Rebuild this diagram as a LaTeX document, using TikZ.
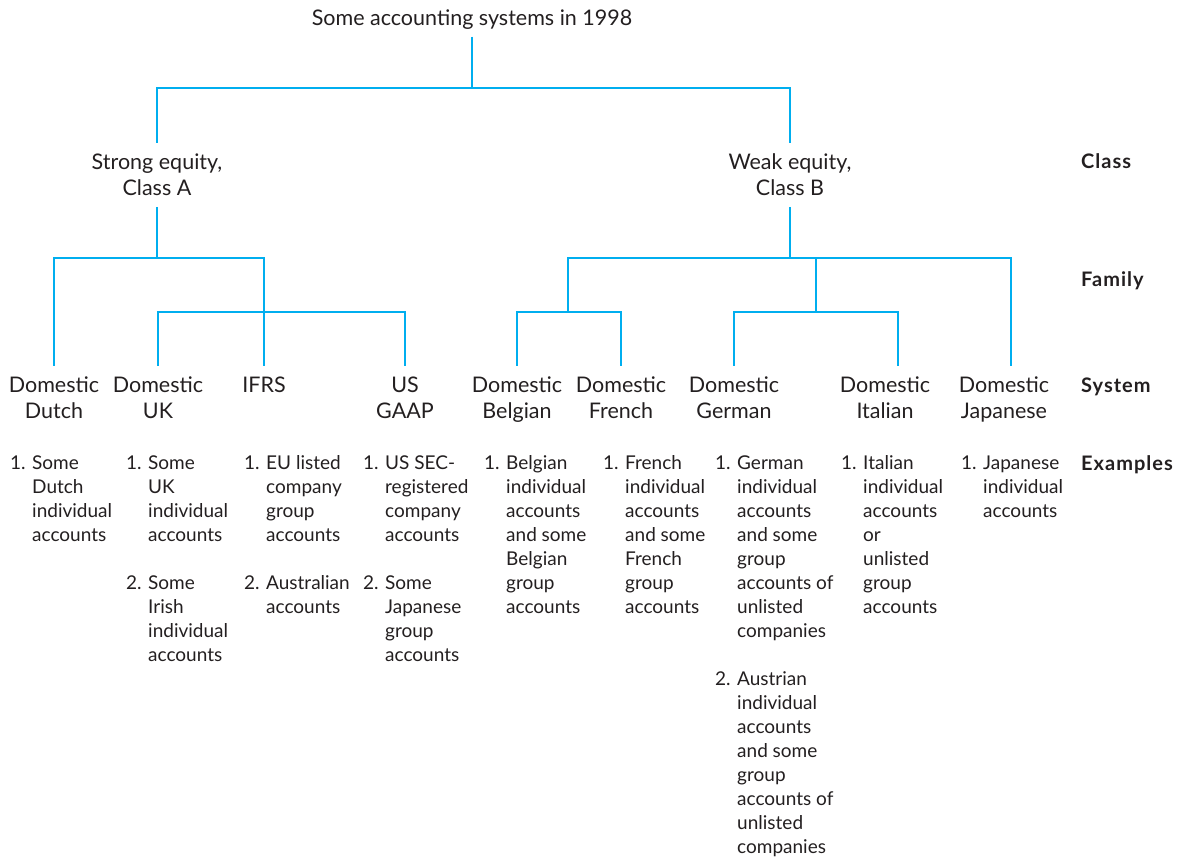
\documentclass[tikz,border=0pt]{standalone}
\usepackage{fontspec}
\setmainfont{Lato}
\newfontfamily\lvlfont[LetterSpace=5]{Lato}
\definecolor{treeblue}{RGB}{0,174,239}
\definecolor{txt}{RGB}{35,31,32}
\newcommand\exa[1]{\makebox[22pt][l]{#1}}
\newcommand\exb{\hspace*{22pt}}
\begin{document}
\begin{tikzpicture}[x=1pt,y=-1pt,
  treeline/.style={draw=treeblue,line width=2.7pt},
  hd/.style={font=\fontsize{21.5}{26}\selectfont,text=txt,inner xsep=0pt,inner ysep=7.8pt},
  exbox/.style={font=\fontsize{19}{24}\selectfont,text=txt,inner sep=0pt,anchor=base west},
  lvl/.style={font=\lvlfont\fontsize{20}{24}\selectfont\bfseries,text=txt,inner sep=0pt,anchor=base west}]
\useasboundingbox (0,0) rectangle (1185,859);
% title
\node[font=\fontsize{21.5}{26}\selectfont,text=txt,inner xsep=0pt,inner ysep=6.5pt,anchor=base] (title) at (472,26) {Some accounting systems in 1998};
% class nodes
\node[hd,anchor=base] (clsA) at (157,169) {\begin{tabular}[t]{@{}c@{}}Strong equity,\\Class A\end{tabular}};
\node[hd,anchor=base] (clsB) at (790,169) {\begin{tabular}[t]{@{}c@{}}Weak equity,\\Class B\end{tabular}};
% system nodes
\node[hd,anchor=base] (sDutch) at (54,392) {\begin{tabular}[t]{@{}c@{}}Domestic\\Dutch\end{tabular}};
\node[hd,anchor=base] (sUK) at (158,392) {\begin{tabular}[t]{@{}c@{}}Domestic\\UK\end{tabular}};
\node[hd,anchor=base] (sIFRS) at (264,392) {\begin{tabular}[t]{@{}c@{}}IFRS\end{tabular}};
\node[hd,anchor=base] (sUS) at (405,392) {\begin{tabular}[t]{@{}c@{}}US\\GAAP\end{tabular}};
\node[hd,anchor=base] (sBel) at (517,392) {\begin{tabular}[t]{@{}c@{}}Domestic\\Belgian\end{tabular}};
\node[hd,anchor=base] (sFr) at (621,392) {\begin{tabular}[t]{@{}c@{}}Domestic\\French\end{tabular}};
\node[hd,anchor=base] (sGer) at (734,392) {\begin{tabular}[t]{@{}c@{}}Domestic\\German\end{tabular}};
\node[hd,anchor=base] (sIt) at (885,392) {\begin{tabular}[t]{@{}c@{}}Domestic\\Italian\end{tabular}};
\node[hd,anchor=base] (sJap) at (1004,392) {\begin{tabular}[t]{@{}c@{}}Domestic\\Japanese\end{tabular}};
% level labels
\node[lvl] (lClass) at (1081,168) {Class};
\node[lvl] (lFamily) at (1081,286) {Family};
\node[lvl] (lSystem) at (1081,392) {System};
\node[lvl] (lExamples) at (1081,470) {Examples};
% examples
\node[exbox] (eDutch) at (10,469) {\begin{tabular}[t]{@{}l@{}}\exa{1.}Some\\\exb Dutch\\\exb individual\\\exb accounts\end{tabular}};
\node[exbox] (eUK) at (126,469) {\begin{tabular}[t]{@{}l@{}}\exa{1.}Some\\\exb UK\\\exb individual\\\exb accounts\\ \\\exa{2.}Some\\\exb Irish\\\exb individual\\\exb accounts\end{tabular}};
\node[exbox] (eIFRS) at (244,469) {\begin{tabular}[t]{@{}l@{}}\exa{1.}EU listed\\\exb company\\\exb group\\\exb accounts\\ \\\exa{2.}Australian\\\exb accounts\end{tabular}};
\node[exbox] (eUS) at (363,469) {\begin{tabular}[t]{@{}l@{}}\exa{1.}US SEC-\\\exb registered\\\exb company\\\exb accounts\\ \\\exa{2.}Some\\\exb Japanese\\\exb group\\\exb accounts\end{tabular}};
\node[exbox] (eBel) at (484,469) {\begin{tabular}[t]{@{}l@{}}\exa{1.}Belgian\\\exb individual\\\exb accounts\\\exb and some\\\exb Belgian\\\exb group\\\exb accounts\end{tabular}};
\node[exbox] (eFr) at (603,469) {\begin{tabular}[t]{@{}l@{}}\exa{1.}French\\\exb individual\\\exb accounts\\\exb and some\\\exb French\\\exb group\\\exb accounts\end{tabular}};
\node[exbox] (eGer) at (715,469) {\begin{tabular}[t]{@{}l@{}}\exa{1.}German\\\exb individual\\\exb accounts\\\exb and some\\\exb group\\\exb accounts of\\\exb unlisted\\\exb companies\\ \\\exa{2.}Austrian\\\exb individual\\\exb accounts\\\exb and some\\\exb group\\\exb accounts of\\\exb unlisted\\\exb companies\end{tabular}};
\node[exbox] (eIt) at (841,469) {\begin{tabular}[t]{@{}l@{}}\exa{1.}Italian\\\exb individual\\\exb accounts\\\exb or\\\exb unlisted\\\exb group\\\exb accounts\end{tabular}};
\node[exbox] (eJap) at (961,469) {\begin{tabular}[t]{@{}l@{}}\exa{1.}Japanese\\\exb individual\\\exb accounts\end{tabular}};
% junctions
\coordinate (j0) at (472,88);
\coordinate (jA) at (157,258);
\coordinate (jA2) at (264,312);
\coordinate (jB) at (790,258);
\coordinate (jB1) at (568,312);
\coordinate (jB2) at (816,312);
% connectors
\draw[treeline] (title.south) -- (j0);
\draw[treeline] (clsA.north) |- (j0) -| (clsB.north);
\draw[treeline] ([yshift=4pt]clsA.south) -- (jA);
\draw[treeline] (sDutch.north) |- (jA) -| (sIFRS.north);
\draw[treeline] (sUK.north) |- (jA2) -| (sUS.north);
\draw[treeline] ([yshift=4pt]clsB.south) -- (jB);
\draw[treeline] (jB1) |- (jB) -| ([xshift=7pt]sJap.north);
\draw[treeline] (jB2) -- (jB2 |- jB);
\draw[treeline] (sBel.north) |- (jB1) -| (sFr.north);
\draw[treeline] (sGer.north) |- (jB2) -| ([xshift=13pt]sIt.north);
\end{tikzpicture}
\end{document}
